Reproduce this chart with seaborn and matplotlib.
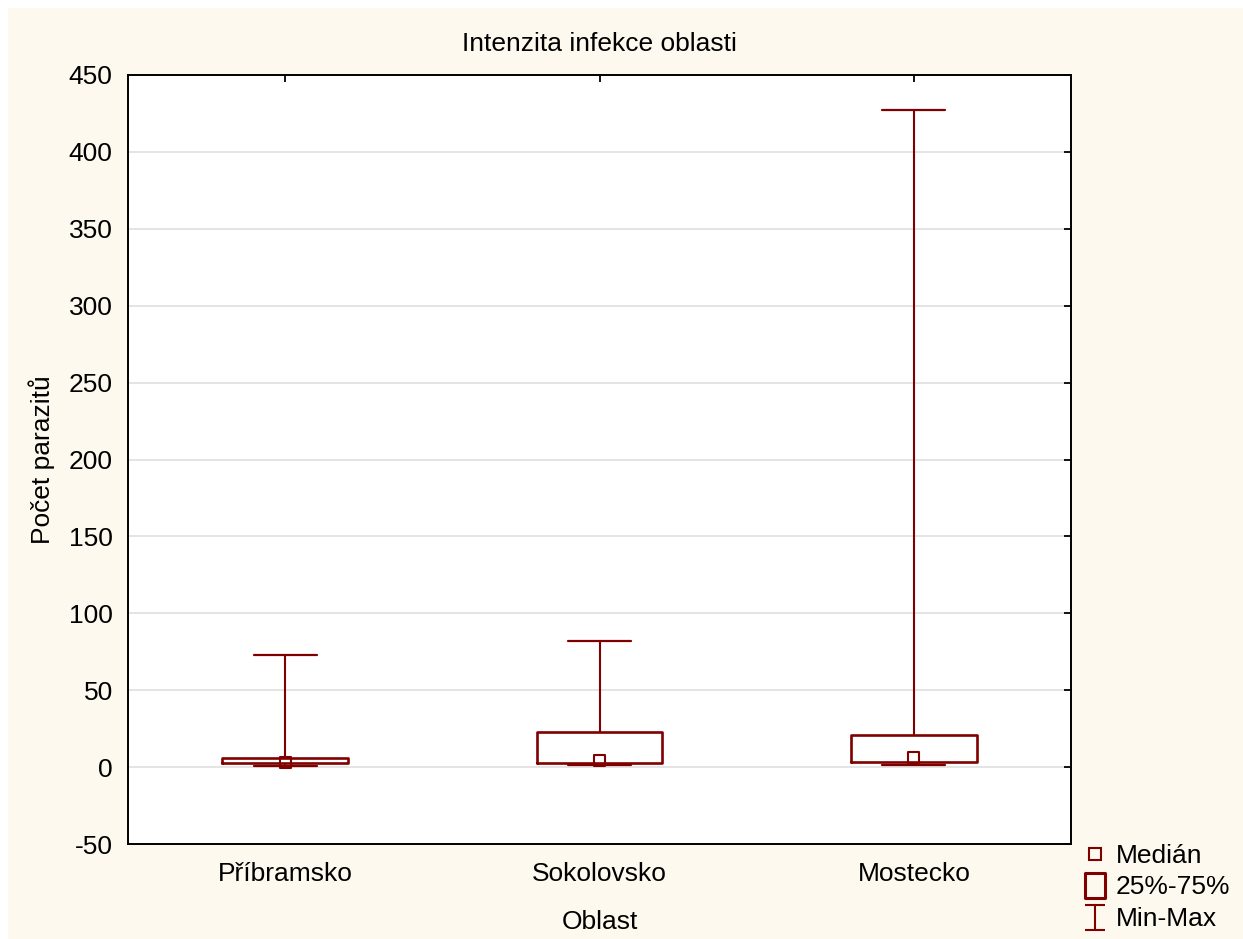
import pandas as pd
import matplotlib.pyplot as plt
import seaborn as sns
from matplotlib.lines import Line2D
from matplotlib.path import Path
from matplotlib.patches import Rectangle

# summary values
oblasti = ["Příbramsko", "Sokolovsko", "Mostecko"]
minimum = [1.0, 1.3, 1.3]
q1 = [2.4, 2.8, 3.5]
median = [3.2, 4.5, 6.3]
q3 = [6.0, 22.5, 21.0]
maximum = [73.0, 82.0, 427.0]
y_ticks = list(range(-50, 451, 50))

MAROON = "#800000"
CREAM = "#fef9ee"

# five values per group -> boxplot_stats gives exactly these quartiles with whis=(0, 100)
rows = []
for i, name in enumerate(oblasti):
    for v in (minimum[i], q1[i], median[i], q3[i], maximum[i]):
        rows.append({"Oblast": name, "Počet parazitů": v})
df = pd.DataFrame(rows)

sns.set_style("white")
plt.rcParams["font.family"] = ["Liberation Sans", "DejaVu Sans"]
plt.rcParams["font.size"] = 19
plt.rcParams["text.color"] = "black"
plt.rcParams["axes.labelcolor"] = "black"
plt.rcParams["axes.unicode_minus"] = False

fig = plt.figure(figsize=(12.43, 9.39), dpi=100, facecolor="white")
fig.add_artist(Rectangle((8 / 1243, 0), 1, 1 - 8 / 939, transform=fig.transFigure,
                         facecolor=CREAM, edgecolor="none", zorder=-10))
ax = fig.add_axes([128 / 1243, 1 - 844 / 939, (1071 - 128) / 1243, (844 - 75) / 939])
ax.set_facecolor("white")

sns.boxplot(data=df, x="Oblast", y="Počet parazitů", order=oblasti, ax=ax,
            whis=(0, 100), width=0.4, fill=False, color=MAROON, linewidth=1.9,
            showfliers=False,
            medianprops={"visible": False},
            whiskerprops={"linewidth": 1.5},
            capprops={"linewidth": 1.6})

sns.scatterplot(x=oblasti, y=median, marker="s", s=60, facecolor="none",
                edgecolor=MAROON, linewidth=1.5, ax=ax, legend=False, zorder=5)

ax.set_xlim(-0.5, 2.5)
ax.set_ylim(-50, 450)
ax.set_yticks(y_ticks)
ax.yaxis.grid(True, color="#e2e2e2", linewidth=1.3)
ax.set_axisbelow(True)

for s in ax.spines.values():
    s.set_visible(True)
    s.set_color("black")
    s.set_linewidth(1.4)

ax.tick_params(direction="in", top=True, right=True, length=5, width=1.3,
               labelsize=19, colors="black")
ax.tick_params(axis="x", pad=13)
ax.tick_params(axis="y", pad=11)

ax.set_title("Intenzita infekce oblasti", fontsize=19, pad=17)
ax.set_xlabel("Oblast", fontsize=19, labelpad=17)
ax.set_ylabel("Počet parazitů", fontsize=19, labelpad=10)

# legend handles like the Statistica box legend
tall_rect = Path([(-0.8, -1), (0.8, -1), (0.8, 1), (-0.8, 1), (-0.8, -1)],
                 [Path.MOVETO, Path.LINETO, Path.LINETO, Path.LINETO, Path.CLOSEPOLY])
ibeam = Path([(-0.8, 1), (0.8, 1), (0, 1), (0, -1), (-0.8, -1), (0.8, -1)],
             [Path.MOVETO, Path.LINETO, Path.MOVETO, Path.LINETO, Path.MOVETO, Path.LINETO])
handles = [
    Line2D([], [], linestyle="none", marker="s", markersize=8, markerfacecolor="none",
           markeredgecolor=MAROON, markeredgewidth=1.5),
    Line2D([], [], linestyle="none", marker=tall_rect, markersize=18, markerfacecolor="none",
           markeredgecolor=MAROON, markeredgewidth=2.2),
    Line2D([], [], linestyle="none", marker=ibeam, markersize=18, markerfacecolor="none",
           markeredgecolor=MAROON, markeredgewidth=1.5),
]
fig.legend(handles, ["Medián", "25%-75%", "Min-Max"], loc="upper left",
           bbox_to_anchor=(1082 / 1243, 1 - 844 / 939), frameon=False,
           borderpad=0, borderaxespad=0, handlelength=1.0, handletextpad=0.27,
           labelspacing=0.28, fontsize=19)

fig.savefig("out.png", dpi=100, facecolor=fig.get_facecolor())
